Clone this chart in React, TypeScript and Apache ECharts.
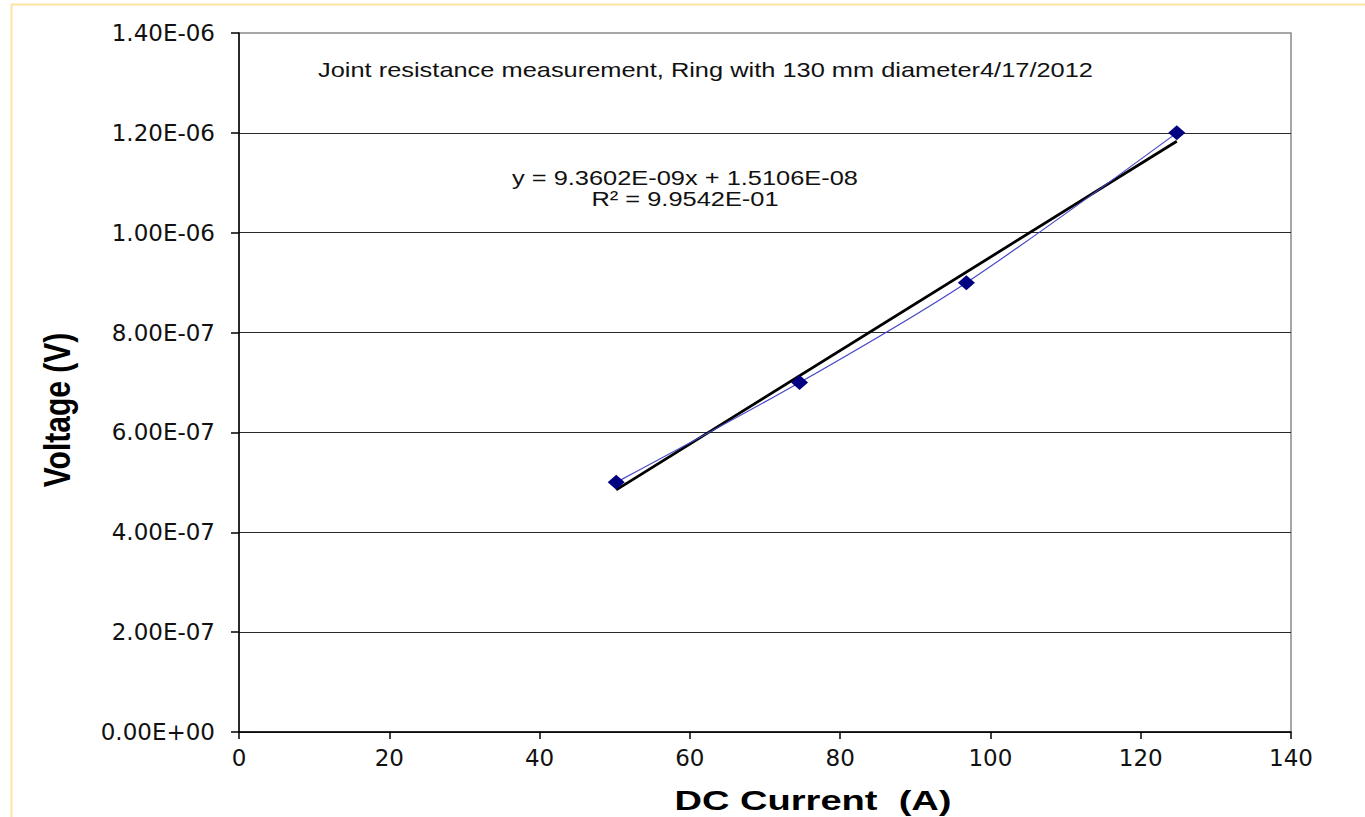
import React, { useEffect, useRef } from "react";
import * as echarts from "echarts";

// Data
const currentA: number[] = [50.2, 74.6, 96.8, 124.8];
const voltageV: number[] = [5.0e-7, 7.0e-7, 9.0e-7, 1.2e-6];

// Trendline as printed on the chart
const trendSlope = 9.3602e-9;
const trendIntercept = 1.5106e-8;
const equationLines: string[] = ["y = 9.3602E-09x + 1.5106E-08", "R² = 9.9542E-01"];
const chartTitle = "Joint resistance measurement, Ring with 130 mm diameter4/17/2012";
const xTitle = "DC Current  (A)";
const yTitle = "Voltage (V)";

const fmtExp = (v: number): string => {
  if (v === 0) return "0.00E+00";
  const [m, e] = v.toExponential(2).split("e");
  const n = parseInt(e, 10);
  return m + "E" + (n < 0 ? "-" : "+") + String(Math.abs(n)).padStart(2, "0");
};

export default function App() {
  const ref = useRef<HTMLDivElement>(null);
  useEffect(() => {
    if (!ref.current) return;
    const chart = echarts.init(ref.current, null, { renderer: "svg" });
    const xMin = Math.min(...currentA);
    const xMax = Math.max(...currentA);
    const trendData = [
      [xMin, trendSlope * xMin + trendIntercept],
      [xMax, trendSlope * xMax + trendIntercept],
    ];
    const textFill = "#111";
    chart.setOption({
      animation: false,
      backgroundColor: "#fff",
      grid: {
        left: 239,
        right: 74,
        top: 33,
        bottom: 85,
        show: true,
        borderColor: "#8a8a8a",
        borderWidth: 1.5,
        backgroundColor: "transparent",
      },
      xAxis: {
        type: "value",
        min: 0,
        max: 140,
        interval: 20,
        axisLine: { show: true, onZero: false, lineStyle: { color: "#000", width: 1.5 } },
        axisTick: { show: true, inside: false, length: 7, lineStyle: { color: "#000", width: 1.5 } },
        axisLabel: {
          margin: 14,
          color: textFill,
          fontFamily: "'DejaVu Sans'",
          fontSize: 23,
        },
        splitLine: { show: false },
      },
      yAxis: {
        type: "value",
        min: 0,
        max: 1.4e-6,
        interval: 2e-7,
        axisLine: { show: true, onZero: false, lineStyle: { color: "#000", width: 1.5 } },
        axisTick: { show: true, inside: false, length: 8, lineStyle: { color: "#000", width: 1.5 } },
        axisLabel: {
          margin: 24,
          color: textFill,
          fontFamily: "'DejaVu Sans'",
          fontSize: 23,
          formatter: fmtExp,
        },
        splitLine: {
          show: true,
          showMaxLine: false,
          lineStyle: { color: "#2a2a2a", width: 1.2 },
        },
      },
      series: [
        {
          type: "line",
          name: "trend",
          data: trendData,
          showSymbol: false,
          symbol: "none",
          lineStyle: { color: "#000", width: 2.8 },
          z: 2,
        },
        {
          type: "line",
          name: "data",
          data: currentA.map((x, i) => [x, voltageV[i]]),
          smooth: 0.3,
          symbol: "diamond",
          symbolSize: [17, 15],
          itemStyle: { color: "#000080" },
          lineStyle: { color: "#4646c8", width: 1.2 },
          z: 3,
        },
      ],
      graphic: [
        {
          type: "line",
          shape: { x1: 11.5, y1: 4.5, x2: 11.5, y2: 817 },
          style: { stroke: "#fbe4a6", lineWidth: 2 },
        },
        {
          type: "line",
          shape: { x1: 11, y1: 4.5, x2: 1365, y2: 4.5 },
          style: { stroke: "#fbe4a6", lineWidth: 2 },
        },
        {
          type: "text",
          x: 318,
          y: 70,
          scaleX: 1.21,
          style: {
            text: chartTitle,
            font: "21px 'Liberation Sans', Arial, sans-serif",
            fill: textFill,
            align: "left",
            verticalAlign: "middle",
          },
        },
        {
          type: "text",
          x: 685,
          y: 178,
          scaleX: 1.27,
          style: {
            text: equationLines[0],
            font: "20px 'Liberation Sans', Arial, sans-serif",
            fill: textFill,
            align: "center",
            verticalAlign: "middle",
          },
        },
        {
          type: "text",
          x: 685,
          y: 199,
          scaleX: 1.27,
          style: {
            text: equationLines[1],
            font: "20px 'Liberation Sans', Arial, sans-serif",
            fill: textFill,
            align: "center",
            verticalAlign: "middle",
          },
        },
        {
          type: "text",
          x: 813,
          y: 800,
          scaleX: 1.36,
          style: {
            text: xTitle,
            font: "bold 28px 'Liberation Sans', Arial, sans-serif",
            fill: "#000",
            align: "center",
            verticalAlign: "middle",
          },
        },
        {
          type: "text",
          x: 57,
          y: 410,
          rotation: Math.PI / 2,
          scaleY: 1.25,
          style: {
            text: yTitle,
            font: "bold 30px 'Liberation Sans', Arial, sans-serif",
            fill: "#000",
            align: "center",
            verticalAlign: "middle",
          },
        },
      ],
    });
    return () => chart.dispose();
  }, []);
  return (
    <div
      ref={ref}
      style={{ position: "absolute", left: 0, top: 0, width: 1365, height: 817 }}
    />
  );
}
